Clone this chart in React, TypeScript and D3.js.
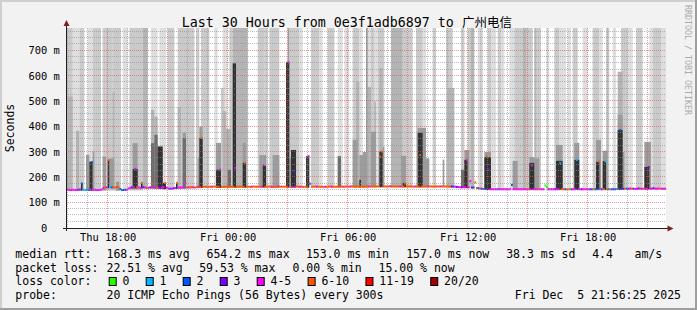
import React from 'react';
import * as d3 from 'd3';

const START = new Date(2025, 11, 4, 15, 56, 25);
const END = new Date(2025, 11, 5, 21, 56, 25);
const STEP_SECONDS = 300;
const Y_MAX_MS = 789.6;

const lossLabels = ['0', '1', '2', '3', '4-5', '6-10', '11-19', '20/20'];
const lossColors = ['#26ff00', '#00b8ff', '#0059ff', '#7e00ff', '#ff00ff', '#ff5500', '#ff0000', '#a00000'];
const lossUpper = [0, 1, 2, 3, 5, 10, 19, 20];

const smokeShades = ['#dedede', '#cacaca', '#b4b4b4', '#9c9c9c', '#6e6e6e', '#333333'];

const yTickValues = [0, 100, 200, 300, 400, 500, 600, 700];
const xTickLabels = ['Thu 18:00', 'Fri 00:00', 'Fri 06:00', 'Fri 12:00', 'Fri 18:00'];

// median rtt (ms) per 300 s step
const median = [
  151,151,150,151,151,150,151,151,152,176,151,150,
  150,151,152,260,151,151,150,150,151,152,158,160,
  161,268,162,160,161,160,162,161,154,150,150,151,
  151,156,159,160,162,233,161,160,159,178,161,160,
  158,159,160,176,161,160,159,158,160,159,161,178,
  159,156,155,155,157,158,178,160,159,160,161,179,
  160,161,160,162,161,160,162,163,161,355,163,163,
  163,162,163,163,164,163,163,163,230,163,162,163,
  163,163,164,163,163,237,163,163,164,163,163,257,
  163,163,162,163,164,163,163,163,163,163,248,163,
  163,164,163,163,163,162,163,164,163,163,163,163,
  163,654,163,163,223,163,164,163,163,163,162,163,
  163,284,175,163,163,164,163,163,163,163,162,163,
  163,163,164,163,163,163,163,163,163,164,163,163,
  164,163,164,164,164,163,164,164,164,164,163,164,
  164,164,164,164,164,164,164,164,282,302,164,164,
  164,164,165,164,164,164,164,164,164,164,164,175,
  164,164,164,164,163,164,164,164,288,164,164,164,
  164,164,164,164,163,164,164,164,164,164,164,164,
  164,164,164,164,163,163,162,162,161,161,161,161,
  267,161,185,160,160,180,158,157,156,155,154,154,
  282,233,153,153,153,153,153,153,153,153,153,153,
  153,153,153,170,153,153,153,153,153,153,153,153,
  153,153,153,247,153,153,153,153,153,153,153,168,
  162,153,153,153,153,153,153,153,256,153,153,153,
  153,153,153,153,153,153,269,153,153,153,153,153,
  153,153,153,153,153,153,153,262,153,153,153,263,
  153,153,153,153,153,153,154,155,387,156,155,155,
  155,155,156,155,155,154,155,156,155,155,155,155,
  155,241,156,155,157,155,155,156,155,155,155,155,
];

// lost pings (of 20) per step
const lossCount = [
  5,5,5,5,5,5,5,3,3,2,1,1,
  1,2,5,2,5,5,5,5,5,5,5,8,
  5,8,1,2,8,8,8,8,2,2,2,2,
  5,5,5,3,5,5,8,5,5,8,3,5,
  8,5,3,8,5,5,8,5,3,5,5,8,
  5,5,2,5,3,5,8,5,5,5,5,5,
  8,5,8,8,5,8,8,5,8,8,8,8,
  8,8,8,5,8,8,8,8,5,8,8,8,
  8,8,8,8,8,5,8,8,8,8,8,8,
  8,8,8,5,8,8,8,8,8,5,5,8,
  8,8,8,5,8,8,8,5,8,8,8,8,
  8,5,8,5,3,5,8,8,5,8,8,8,
  8,5,3,8,8,8,5,8,8,8,8,5,
  8,8,8,5,8,8,8,8,8,8,5,8,
  8,8,5,8,8,8,8,8,8,8,8,8,
  8,5,8,8,8,8,8,8,8,8,8,8,
  8,8,5,8,8,8,8,8,5,8,8,8,
  8,8,8,8,8,5,8,8,8,8,8,8,
  8,5,8,8,8,8,8,8,5,8,8,8,
  8,8,8,3,2,5,3,5,5,3,5,5,
  5,5,5,3,2,8,8,2,8,2,5,2,
  8,3,5,5,5,5,5,2,5,5,5,5,
  5,5,5,2,5,5,5,5,5,5,5,5,
  5,8,5,5,5,5,5,8,5,5,5,0,
  0,3,5,5,5,3,5,5,1,8,8,2,
  8,8,8,2,5,5,1,5,5,3,5,5,
  5,5,3,2,8,2,2,8,5,2,8,1,
  8,2,8,2,2,2,8,2,2,2,3,8,
  2,3,5,8,3,5,5,3,5,5,8,5,
  5,3,5,5,3,5,5,5,8,5,5,5,
];

// smoke: [first step, end step, top ms, shade]
const tallSmoke = [
  [0,4,800,1],[4,8,800,0],[8,11,800,1],[13,16,800,0],[16,21,800,1],[22,28,800,1],[28,33,800,1],
  [34,37,800,0],[38,46,800,1],[46,49,800,2],[51,55,800,0],[56,60,800,0],[61,65,800,1],[67,77,800,1],
  [78,80,800,1],[81,86,800,1],[89,91,800,0],[94,97,800,0],[98,100,800,1],[100,109,800,2],[115,119,800,1],
  [119,121,800,1],[122,128,800,1],[133,134,800,3],[134,140,800,1],[140,142,800,0],[147,152,800,1],
  [152,154,800,0],[157,161,800,1],[163,166,800,0],[167,170,800,0],[172,176,800,1],[176,178,800,0],
  [180,181,800,3],[181,183,800,0],[183,185,800,1],[185,187,800,0],[187,191,800,1],[195,202,800,2],
  [202,205,800,1],[205,208,800,1],[210,214,800,1],[214,216,800,0],[220,222,800,1],[228,232,800,1],
  [237,239,800,1],[241,243,800,1],[243,245,800,2],[247,248,800,0],[248,250,800,1],[253,255,800,1],
  [255,258,800,0],[259,261,800,1],[261,263,800,0],[266,269,800,0],[269,274,800,1],[274,276,800,2],
  [276,280,800,1],[281,282,800,2],[282,285,800,1],[288,290,800,0],[293,296,800,1],[296,300,800,0],
  [301,303,800,0],[304,307,800,1],[310,313,800,0],[316,320,800,1],[320,322,800,0],[324,326,800,1],
  [328,330,800,0],[333,337,800,1],[337,340,800,0],[342,346,800,1],[350,352,800,0],[352,357,800,1],
  [357,360,800,0],
];

const partialSmoke = [
  [0,1,269,3],[1,4,519,2],[6,8,384,2],[12,14,289,3],[16,17,302,3],[22,24,282,3],[26,29,275,3],
  [28,29,539,2],[30,32,183,3],[40,43,335,3],[51,53,467,2],[53,55,440,2],[55,58,308,3],[56,58,316,3],
  [67,69,478,2],[70,72,376,3],[79,80,275,3],[80,82,400,3],[90,93,336,3],[93,95,553,1],[94,96,462,2],
  [95,99,391,2],[106,108,336,3],[116,118,288,3],[118,120,288,3],[124,128,288,3],[134,135,275,3],
  [172,175,348,3],[174,176,577,2],[176,180,288,3],[178,180,300,3],[181,183,557,2],[183,186,380,3],
  [185,186,500,2],[188,190,632,2],[190,191,320,3],[201,204,285,3],[211,216,395,3],[215,218,275,3],
  [226,227,270,3],[229,233,553,2],[239,242,308,3],[251,255,300,3],[268,271,265,3],[278,281,280,3],
  [281,284,275,3],[294,298,328,3],[305,308,336,3],[318,321,348,3],[322,325,305,3],[331,334,617,2],
  [331,334,447,3],[333,335,300,3],[347,351,340,3],
];

const darkSmoke = [
  [9,10,178,5],[14,16,262,5],[25,26,269,5],[40,43,233,5],[45,46,180,5],[51,53,335,4],[53,55,368,4],
  [55,58,322,5],[58,60,178,5],[66,67,178,5],[70,72,355,4],[80,82,355,5],[90,93,230,5],[97,99,230,4],
  [100,102,650,5],[106,108,257,5],[118,120,245,5],[132,134,656,5],[135,138,308,5],[144,146,284,5],
  [163,165,284,4],[176,177,190,5],[188,190,302,5],[202,204,178,5],[211,214,376,5],[237,240,230,4],
  [239,241,269,5],[251,255,280,5],[278,281,257,5],[294,298,265,5],[305,308,269,5],[318,320,261,5],
  [322,324,264,5],[331,334,387,5],[347,350,241,5],
];

const rttStats = ['168.3 ms avg', '654.2 ms max', '153.0 ms min', '157.0 ms now', '38.3 ms sd', '4.4', 'am/s'];
const lossStats = ['22.51 % avg', '59.53 % max', '0.00 % min', '15.00 % now'];
const probeText = '20 ICMP Echo Pings (56 Bytes) every 300s';
const stampText = 'Fri Dec  5 21:56:25 2025';

const MONO = "'DejaVu Sans Mono', monospace";

export default function App() {
  const W = 697, H = 310;
  const L = 66, R = 666, T = 28, B = 228;
  const x = d3.scaleTime().domain([START, END]).range([L, R]);
  const y = d3.scaleLinear().domain([0, Y_MAX_MS]).range([B, T]);
  const tAt = (i: number) => new Date(START.getTime() + i * STEP_SECONDS * 1000);
  const lossClass = (n: number) => lossUpper.findIndex((u) => n <= u);

  const bands = [...tallSmoke, ...partialSmoke]
    .slice()
    .sort((a, b) => a[3] - b[3] || b[2] - a[2]);
  const bandRect = (d: number[], k: string) => {
    const [s, e, topV, shade] = d;
    const base = (d3.min(median.slice(Math.max(0, s - 2), Math.min(median.length, e + 2))) as number) - 3;
    const x0 = x(tAt(s));
    const x1 = x(tAt(e));
    const yt = y(Math.min(topV, Y_MAX_MS));
    const yb = y(base);
    return <rect key={k} x={x0} y={yt} width={x1 - x0} height={Math.max(0, yb - yt)} fill={smokeShades[shade]} />;
  };

  const hours = d3.timeHour.range(d3.timeHour.ceil(START), END);
  const minorV = hours.filter((h) => h.getHours() % 3 !== 0);
  const majorV = hours.filter((h) => h.getHours() % 3 === 0);
  const labelTimes = hours.filter((h) => h.getHours() % 6 === 0);
  const fmt = d3.timeFormat('%a %H:%M');
  const minorH = d3.range(25, Y_MAX_MS, 25).filter((v) => v % 100 !== 0);
  const majorH = yTickValues.filter((v) => v > 0);
  const px = (v: number) => Math.floor(v) + 0.5;
  const py = (v: number) => Math.round(v) - 0.5;

  const axisCharW = 6.26;
  const legendRows = [258.3, 271.8, 285.3, 299];
  const rttX = [107.3, 207.3, 306.7, 407, 507, 593, 635.3];
  const lossX = [107.3, 200, 293.3, 379.3];

  let cursor = 108.7;
  const legendItems = lossLabels.map((lab, i) => {
    const bx = cursor;
    cursor += 30.05 + lab.length * 6.95;
    return { lab, bx, color: lossColors[i] };
  });

  return (
    <svg width={W} height={H} style={{ position: 'absolute', left: 0, top: 0, display: 'block' }} fontFamily={MONO}>
      <rect x={0} y={0} width={W} height={H} fill="#f2f2f2" />
      <rect x={0} y={0} width={W} height={2} fill="#cfcfcf" />
      <rect x={0} y={0} width={2} height={H} fill="#cfcfcf" />
      <rect x={0} y={H - 2} width={W} height={2} fill="#9e9e9e" />
      <rect x={W - 2} y={0} width={2} height={H} fill="#9e9e9e" />
      <rect x={L} y={T} width={R - L} height={B - T} fill="#ffffff" />

      <g>{bands.map((d, i) => bandRect(d, 'b' + i))}</g>
      <g>{darkSmoke.map((d, i) => bandRect(d, 'd' + i))}</g>

      <g>
        {median.map((m, i) => {
          const x0 = x(tAt(i));
          const x1 = x(tAt(i + 1));
          return (
            <rect key={i} x={x0} y={y(m) - 1} width={x1 - x0 + 0.2} height={2} fill={lossColors[lossClass(lossCount[i])]} />
          );
        })}
      </g>

      <g strokeWidth={1} strokeDasharray="1,1" fill="none">
        {minorH.map((v) => (
          <line key={'mh' + v} x1={L} x2={R} y1={py(y(v))} y2={py(y(v))} stroke="rgba(143,143,143,0.6)" />
        ))}
        {minorV.map((h) => (
          <line key={'mv' + h.getTime()} x1={px(x(h))} x2={px(x(h))} y1={T} y2={B} stroke="rgba(143,143,143,0.6)" />
        ))}
        {majorH.map((v) => (
          <line key={'Mh' + v} x1={L} x2={R} y1={py(y(v))} y2={py(y(v))} stroke="rgba(222,79,79,0.6)" />
        ))}
        {majorV.map((h) => (
          <line key={'Mv' + h.getTime()} x1={px(x(h))} x2={px(x(h))} y1={T} y2={B} stroke="rgba(222,79,79,0.6)" />
        ))}
      </g>

      <line x1={63} x2={669} y1={228.5} y2={228.5} stroke="#1f1f1f" />
      <line x1={66.5} x2={66.5} y1={231} y2={24} stroke="#1f1f1f" />
      <path d="M667.5,225.5 L673.5,228.5 L667.5,231.5 Z" fill="#801f1f" />
      <path d="M63.5,26 L66.5,20 L69.5,26 Z" fill="#801f1f" />

      <g fontSize={10.4} fill="#000">
        {yTickValues.map((v) => (
          <text key={'yt' + v} x={v === 0 ? 59.7 - 2 * axisCharW : 59.7} y={y(v) + 3.6} textAnchor="end">
            {v === 0 ? '0' : `${v} m`}
          </text>
        ))}
        {labelTimes.map((h, i) => (
          <text key={'xt' + i} x={x(h) + 1} y={241.3} textAnchor="middle">
            {xTickLabels[i] ?? fmt(h)}
          </text>
        ))}
      </g>

      <text transform="translate(14,128) rotate(-90)" textAnchor="middle" fontSize={11.5}>Seconds</text>

      <text x={346.8} y={26.5} textAnchor="middle" fontSize={13.3}>
        Last 30 Hours from 0e3f1adb6897 to <tspan fontFamily="'Noto Sans CJK SC'" fontSize={12.5}>广州电信</tspan>
      </text>

      <text transform="translate(684.5,5) rotate(90)" fontSize={8.3} fill="#aaaaaa">RRDTOOL / TOBI OETIKER</text>

      <g fontSize={11.5} fill="#000" style={{ whiteSpace: 'pre' }}>
        <text x={15.3} y={legendRows[0]}>median rtt:</text>
        {rttStats.map((s, i) => (
          <text key={'r' + i} x={rttX[i] - 0.8} y={legendRows[0]}>{s}</text>
        ))}
        <text x={15.3} y={legendRows[1]}>packet loss:</text>
        {lossStats.map((s, i) => (
          <text key={'l' + i} x={lossX[i] - 0.8} y={legendRows[1]}>{s}</text>
        ))}
        <text x={15.3} y={legendRows[2]}>loss color:</text>
        {legendItems.map((it) => (
          <g key={it.lab}>
            <rect x={it.bx + 0.5} y={277.5} width={7} height={8} fill={it.color} stroke="#000" strokeWidth={1} />
            <text x={it.bx + 13.8} y={legendRows[2]}>{it.lab}</text>
          </g>
        ))}
        <text x={15.3} y={legendRows[3]}>probe:</text>
        <text x={106.5} y={legendRows[3]}>{probeText}</text>
        <text x={681} y={legendRows[3]} textAnchor="end" xmlSpace="preserve">{stampText}</text>
      </g>
    </svg>
  );
}
